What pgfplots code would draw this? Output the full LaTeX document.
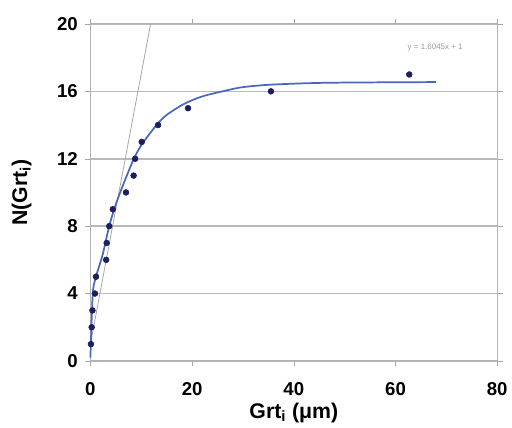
\documentclass[border=0pt]{standalone}
\usepackage{pgfplots}
\pgfplotsset{compat=1.18}
\usepackage{fontspec}
\setmainfont{Liberation Sans}
\definecolor{ptnavy}{HTML}{1C1F5E}
\definecolor{fitblue}{HTML}{4A68B8}
\begin{document}
\begin{tikzpicture}
\begin{axis}[
  scale only axis,
  width=306pt, height=253.5pt,
  xmin=0, xmax=80, ymin=0, ymax=20,
  xtick={0,20,40,60,80},
  ytick={0,4,8,12,16,20},
  tick align=outside,
  tick style={draw=gray!70, major tick length=4pt},
  ymajorgrids=true,
  grid style={draw=gray!55, line width=1.2pt},
  axis line style={draw=gray!60, line width=0.8pt},
  ticklabel style={font=\fontsize{14}{16}\selectfont\bfseries},
  xticklabel style={yshift=-9pt},
  yticklabel style={xshift=-2pt},
  /pgf/number format/assume math mode=true,
  xlabel={Grt\textsubscript{i} (μm)},
  ylabel={N(Grt\textsubscript{i})},
  xlabel style={font=\fontsize{16}{18}\selectfont\bfseries,
    at={(axis description cs:0.5,-0.154)}, anchor=center},
  ylabel style={font=\fontsize{16}{18}\selectfont\bfseries,
    at={(axis description cs:-0.169,0.5)}, anchor=center},
  clip=false,
]
% tangent line y = 1.6045x + 1
\addplot[gray!70, line width=0.6pt] coordinates {(0,1) (11.84,20)};
% fitted curve (traced)
\addplot[fitblue, line width=1.3pt, smooth] coordinates {
  (0,0.2) (0.45,3.9) (1,4.9) (2.4,6.3) (3.7,8) (5,9.3) (6.5,10.5)
  (8.4,11.9) (10,12.8) (13,14) (15,14.6) (18.4,15.25) (22,15.7)
  (26.7,16.05) (30,16.25) (35.7,16.4) (45,16.5) (55,16.53) (68,16.55)
};
% data points
\addplot[only marks, mark=*, mark size=2.2pt, ptnavy] coordinates {
  (0.1,1) (0.25,2) (0.4,3) (0.9,4) (1.1,5) (3.1,6) (3.2,7) (3.7,8)
  (4.4,9) (7.0,10) (8.5,11) (8.8,12) (10.1,13) (13.3,14) (19.2,15)
  (35.5,16) (62.7,17)
};
\node[gray!80, font=\fontsize{6}{7}\selectfont] at (axis cs:67.8,18.6) {y = 1.6045x + 1};
\draw[gray!60, line width=0.8pt] (axis cs:0,20) -- (axis cs:80,20) -- (axis cs:80,0);
% page margins as in the reference
\path ([shift={(-68pt,-50pt)}]rel axis cs:0,0) ([shift={(10pt,18pt)}]rel axis cs:1,1);
\end{axis}
\end{tikzpicture}
\end{document}
